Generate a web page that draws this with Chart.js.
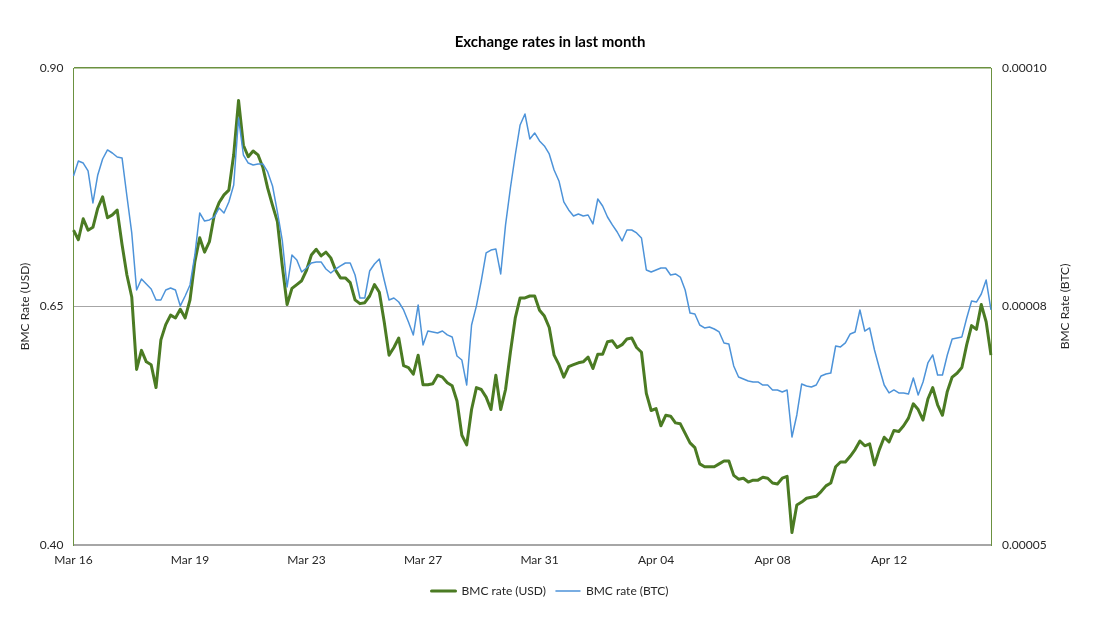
<!DOCTYPE html>
<html>
<head>
<meta charset="utf-8">
<title>Exchange rates in last month</title>
<script src="https://cdn.jsdelivr.net/npm/chart.js@4.4.0/dist/chart.umd.min.js"></script>
<style>
html, body { margin: 0; padding: 0; background: #fff; }
</style>
</head>
<body>
<canvas id="rates" width="1100" height="633"></canvas>
<script>
// x axis: one label every 24 points (4 hour steps)
var tickLabels = ["Mar 16", "Mar 19", "Mar 23", "Mar 27", "Mar 31", "Apr 04", "Apr 08", "Apr 12"];
var pointsPerTick = 24;

var usdRate = [
	0.730, 0.720, 0.742, 0.730, 0.733, 0.753, 0.765, 0.743, 0.746, 0.751,
	0.715, 0.683, 0.660, 0.584, 0.604, 0.592, 0.589, 0.565, 0.615, 0.631,
	0.641, 0.638, 0.647, 0.638, 0.657, 0.697, 0.722, 0.707, 0.718, 0.746,
	0.759, 0.767, 0.772, 0.809, 0.866, 0.819, 0.807, 0.813, 0.809, 0.796,
	0.774, 0.756, 0.739, 0.693, 0.652, 0.669, 0.673, 0.677, 0.688, 0.704,
	0.710, 0.703, 0.707, 0.701, 0.688, 0.680, 0.680, 0.675, 0.657, 0.653,
	0.654, 0.661, 0.673, 0.665, 0.634, 0.599, 0.607, 0.617, 0.588, 0.586,
	0.579, 0.599, 0.568, 0.568, 0.569, 0.578, 0.576, 0.570, 0.567, 0.551,
	0.515, 0.505, 0.542, 0.565, 0.563, 0.555, 0.542, 0.578, 0.542, 0.563,
	0.602, 0.638, 0.659, 0.659, 0.661, 0.661, 0.646, 0.640, 0.628, 0.599,
	0.589, 0.576, 0.587, 0.589, 0.591, 0.592, 0.597, 0.585, 0.600, 0.600,
	0.613, 0.614, 0.607, 0.610, 0.616, 0.617, 0.607, 0.602, 0.559, 0.541,
	0.543, 0.525, 0.536, 0.535, 0.528, 0.527, 0.517, 0.507, 0.502, 0.485,
	0.482, 0.482, 0.482, 0.485, 0.488, 0.488, 0.473, 0.469, 0.470, 0.466,
	0.468, 0.468, 0.471, 0.470, 0.465, 0.464, 0.470, 0.472, 0.413, 0.442,
	0.445, 0.449, 0.450, 0.451, 0.456, 0.462, 0.465, 0.482, 0.487, 0.487,
	0.493, 0.500, 0.509, 0.504, 0.506, 0.484, 0.500, 0.513, 0.508, 0.520,
	0.519, 0.525, 0.533, 0.548, 0.542, 0.531, 0.553, 0.565, 0.547, 0.536,
	0.561, 0.576, 0.580, 0.586, 0.610, 0.630, 0.626, 0.652, 0.634, 0.599
];

var btcRate = [
	0.00008868, 0.00009025, 0.00009004, 0.00008921, 0.00008585, 0.00008879, 0.00009046, 0.00009141, 0.00009109, 0.00009067,
	0.00009057, 0.00008658, 0.00008271, 0.00007673, 0.00007789, 0.00007736, 0.00007684, 0.00007568, 0.00007568, 0.00007673,
	0.00007694, 0.00007673, 0.00007506, 0.00007610, 0.00007726, 0.00008040, 0.00008480, 0.00008396, 0.00008407, 0.00008438,
	0.00008533, 0.00008480, 0.00008596, 0.00008774, 0.00009476, 0.00009088, 0.00009004, 0.00008983, 0.00008994, 0.00008994,
	0.00008910, 0.00008763, 0.00008491, 0.00008197, 0.00007705, 0.00008040, 0.00007988, 0.00007862, 0.00007904, 0.00007956,
	0.00007967, 0.00007967, 0.00007893, 0.00007851, 0.00007893, 0.00007925, 0.00007956, 0.00007956, 0.00007830, 0.00007589,
	0.00007589, 0.00007872, 0.00007946, 0.00007998, 0.00007778, 0.00007568, 0.00007589, 0.00007547, 0.00007464, 0.00007338,
	0.00007202, 0.00007516, 0.00007097, 0.00007243, 0.00007233, 0.00007222, 0.00007243, 0.00007202, 0.00007181, 0.00006981,
	0.00006939, 0.00006677, 0.00007306, 0.00007506, 0.00007768, 0.00008061, 0.00008092, 0.00008103, 0.00007841, 0.00008355,
	0.00008742, 0.00009088, 0.00009403, 0.00009518, 0.00009256, 0.00009319, 0.00009235, 0.00009183, 0.00009099, 0.00008931,
	0.00008816, 0.00008596, 0.00008512, 0.00008449, 0.00008470, 0.00008449, 0.00008459, 0.00008365, 0.00008627, 0.00008554,
	0.00008438, 0.00008355, 0.00008281, 0.00008187, 0.00008302, 0.00008302, 0.00008271, 0.00008218, 0.00007883, 0.00007862,
	0.00007883, 0.00007904, 0.00007904, 0.00007830, 0.00007841, 0.00007809, 0.00007673, 0.00007432, 0.00007422, 0.00007306,
	0.00007275, 0.00007285, 0.00007264, 0.00007233, 0.00007118, 0.00007107, 0.00006877, 0.00006761, 0.00006740, 0.00006719,
	0.00006709, 0.00006709, 0.00006677, 0.00006677, 0.00006625, 0.00006625, 0.00006604, 0.00006625, 0.00006132, 0.00006363,
	0.00006688, 0.00006667, 0.00006656, 0.00006677, 0.00006772, 0.00006793, 0.00006803, 0.00007086, 0.00007076, 0.00007118,
	0.00007212, 0.00007233, 0.00007464, 0.00007243, 0.00007275, 0.00007044, 0.00006856, 0.00006677, 0.00006594, 0.00006625,
	0.00006594, 0.00006594, 0.00006583, 0.00006751, 0.00006573, 0.00006709, 0.00006908, 0.00006992, 0.00006782, 0.00006782,
	0.00006992, 0.00007160, 0.00007170, 0.00007181, 0.00007380, 0.00007558, 0.00007547, 0.00007631, 0.00007778, 0.00007464
];

var categories = [];
for (var i = 0; i < usdRate.length; i++) {
	categories.push(i % pointsPerTick === 0 ? tickLabels[i / pointsPerTick] : '');
}

var frameGreen = '#6b9140';
var axisGrey = '#a6a6a6';
var textColor = '#262626';
var fontFamily = "Lato, 'Open Sans', sans-serif";

Chart.defaults.font.family = fontFamily;
Chart.defaults.font.size = 12;
Chart.defaults.color = textColor;

// secondary axis title reads bottom to top like the primary one
var rightTitle = {
	id: 'rightTitle',
	afterDraw: function(chart) {
		var c = chart.ctx;
		var area = chart.chartArea;
		c.save();
		c.translate(1065, (area.top + area.bottom) / 2);
		c.rotate(-Math.PI / 2);
		c.font = '12px ' + fontFamily;
		c.fillStyle = textColor;
		c.textAlign = 'center';
		c.textBaseline = 'middle';
		c.fillText('BMC Rate (BTC)', 0, 0);
		c.restore();
	}
};

var ctx = document.getElementById('rates').getContext('2d');
var chart = new Chart(ctx, {
	type: 'line',
	data: {
		labels: categories,
		datasets: [{
			label: 'BMC rate (USD)',
			data: usdRate,
			yAxisID: 'yUsd',
			borderColor: '#4b7b23',
			backgroundColor: '#4b7b23',
			borderWidth: 3,
			pointRadius: 0,
			tension: 0,
			borderJoinStyle: 'round',
			order: 1
		}, {
			label: 'BMC rate (BTC)',
			data: btcRate,
			yAxisID: 'yBtc',
			borderColor: '#4d93d9',
			backgroundColor: '#4d93d9',
			borderWidth: 1.5,
			pointRadius: 0,
			tension: 0,
			borderJoinStyle: 'round',
			order: 0
		}]
	},
	options: {
		responsive: false,
		animation: false,
		layout: { padding: { left: 0, right: 0, top: 0, bottom: 26 } },
		plugins: {
			title: {
				display: true,
				text: 'Exchange rates in last month',
				color: '#000',
				font: { size: 15, weight: 'bold' },
				padding: { top: 33, bottom: 17 }
			},
			legend: {
				position: 'bottom',
				labels: {
					boxWidth: 24,
					boxHeight: 0,
					padding: 10,
					color: textColor,
					font: { size: 12 },
					sort: function(a, b) { return a.datasetIndex - b.datasetIndex; }
				}
			},
			tooltip: { enabled: false }
		},
		scales: {
			x: {
				type: 'category',
				offset: false,
				grid: { color: 'transparent', drawTicks: false },
				border: { color: axisGrey, width: 2 },
				ticks: { autoSkip: false, maxRotation: 0, padding: 8, color: textColor },
				afterFit: function(scale) { scale.height = 30; }
			},
			yUsd: {
				position: 'left',
				min: 0.40,
				max: 0.90,
				ticks: {
					stepSize: 0.25,
					padding: 10,
					color: textColor,
					callback: function(v) { return Number(v).toFixed(2); }
				},
				grid: {
					drawTicks: false,
					lineWidth: function(c) {
						var v = c.tick ? c.tick.value : 0;
						return Math.abs(v - 0.90) < 1e-6 ? 1.5 : 1;
					},
					color: function(c) {
						var v = c.tick ? c.tick.value : 0;
						if (Math.abs(v - 0.65) < 1e-6) return axisGrey;
						if (Math.abs(v - 0.90) < 1e-6) return frameGreen;
						return 'transparent';
					}
				},
				border: { color: frameGreen, width: 1 },
				title: {
					display: true,
					text: 'BMC Rate (USD)',
					color: textColor,
					font: { size: 12 },
					padding: { top: 18, bottom: 0 }
				},
				afterFit: function(scale) { scale.width = 73.5; }
			},
			yBtc: {
				position: 'right',
				min: 0.00005,
				max: 0.0001,
				ticks: {
					stepSize: 0.000025,
					padding: 11,
					color: textColor,
					callback: function(v) {
						var n = Math.round(Math.round(v * 1e6) / 10);
						return (n / 1e5).toFixed(5);
					}
				},
				grid: { drawOnChartArea: false, drawTicks: false },
				border: { color: frameGreen, width: 1 },
				afterFit: function(scale) { scale.width = 109; }
			}
		}
	},
	plugins: [rightTitle]
});
</script>
</body>
</html>
